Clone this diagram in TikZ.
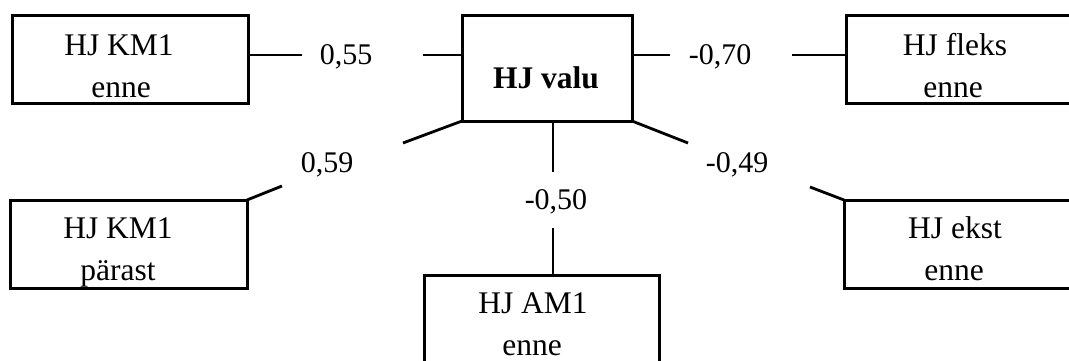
\documentclass[tikz,border=0pt]{standalone}
\usepackage{fontspec}
\setmainfont{Liberation Serif}
\begin{document}
\begin{tikzpicture}[x=1pt,y=-1pt,
  box/.style={draw,line width=3pt,inner sep=0pt,outer sep=0pt,rectangle},
  conn/.style={line width=2.8pt},
  txt/.style={anchor=base,inner sep=0pt,font=\fontsize{31.5}{36}\selectfont},
  lbl/.style={anchor=base,inner sep=0pt,font=\fontsize{30}{36}\selectfont}]
\useasboundingbox (0,0) rectangle (1069,360);
\clip (0,0) rectangle (1069,360);
% boxes
\node[box,minimum width=236pt,minimum height=88pt] (A) at (130,59) {};
\node[box,minimum width=170pt,minimum height=106pt] (V) at (547,68) {};
\node[box,minimum width=234pt,minimum height=88pt] (F) at (963,59) {};
\node[box,minimum width=237pt,minimum height=88pt] (P) at (128.5,244) {};
\node[box,minimum width=236pt,minimum height=88pt] (E) at (962,244) {};
\node[box,minimum width=235pt,minimum height=105pt] (M) at (541.5,327.5) {};
% box texts
\node[txt] (A1) at (119,55) {HJ KM1};
\node[txt] (A2) at (121,97) {enne};
\node[txt,font=\fontsize{31.5}{36}\selectfont\bfseries] (V1) at (546,88) {HJ valu};
\node[txt] (F1) at (955,55) {HJ fleks};
\node[txt] (F2) at (953,97) {enne};
\node[txt] (P1) at (118,238) {HJ KM1};
\node[txt] (P2) at (118,280) {pärast};
\node[txt] (E1) at (955,238) {HJ ekst};
\node[txt] (E2) at (954,280) {enne};
\node[txt] (M1) at (533,313) {HJ AM1};
\node[txt] (M2) at (532,355) {enne};
% labels
\node[lbl] (l1) at (346,64) {0,55};
\node[lbl] (l2) at (720,64) {-0,70};
\node[lbl] (l3) at (327,172) {0,59};
\node[lbl] (l4) at (556,209) {-0,50};
\node[lbl] (l5) at (737,172) {-0,49};
% free ends
\coordinate (a1) at (302,55);
\coordinate (a2) at (423,55);
\coordinate (b1) at (670,55);
\coordinate (b2) at (792,55);
\coordinate (c1) at (403,143);
\coordinate (c2) at (282,186);
\coordinate (d1) at (553,172);
\coordinate (d2) at (553,228);
\coordinate (e1) at (688,143);
\coordinate (e2) at (810,187);
% connectors
\draw[conn] (A.east |- a1) -- (a1);
\draw[conn] (a2) -- (V.west |- a2);
\draw[conn] (V.east |- b1) -- (b1);
\draw[conn] (b2) -- (F.west |- b2);
\draw[conn] (V.south west) -- (c1);
\draw[conn] (c2) -- (P.north east);
\draw[conn] (V.south -| d1) -- (d1);
\draw[conn] (d2) -- (M.north -| d2);
\draw[conn] (V.south east) -- (e1);
\draw[conn] (e2) -- (E.north west);
\end{tikzpicture}
\end{document}
